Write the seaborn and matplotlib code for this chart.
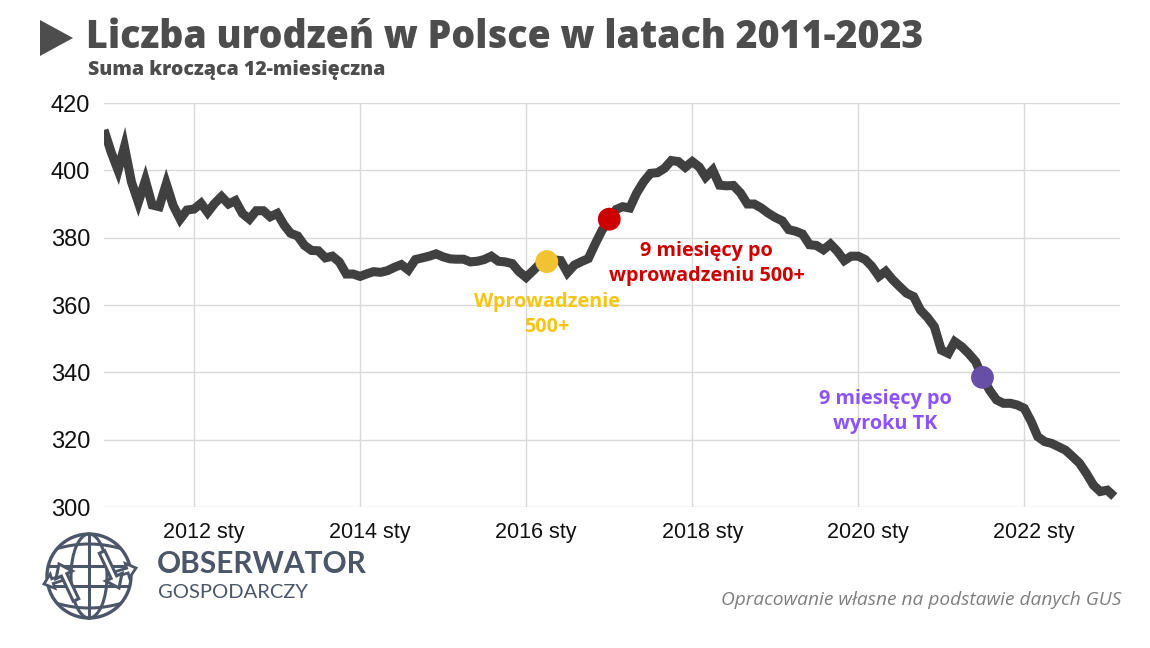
import numpy as np
import pandas as pd
import matplotlib
matplotlib.use("Agg")
import matplotlib.pyplot as plt
import seaborn as sns
from matplotlib.patches import Polygon, Circle, Ellipse, FancyArrow
from matplotlib.transforms import ScaledTranslation

# ---------------- data ----------------
start_month = "2010-12-01"
births = [
    412, 405.5, 400, 407, 396.5, 390.5, 397, 389.7, 389.2, 396,
    389.6, 385.5, 388.2, 388.5, 390.2, 387.5, 390.2, 392.2, 390, 391,
    387.2, 385.5, 388, 388, 386.2, 387.2, 383.7, 381.3, 380.5, 377.7,
    376.2, 376.1, 374, 374.5, 372.8, 369.2, 369.2, 368.5, 369.3, 369.9,
    369.7, 370.2, 371.2, 372, 370.4, 373.5, 374, 374.5, 375.2, 374.3,
    373.7, 373.6, 373.6, 372.8, 373, 373.5, 374.5, 373, 372.8, 372.3,
    369.9, 368.2, 370.2, 372.2, 372.9, 373.4, 373.2, 369.6, 371.9, 372.9,
    373.8, 378.3, 382.3, 385.5, 388.4, 389.2, 388.8, 393.2, 396.6, 399.1,
    399.3, 400.6, 402.9, 402.6, 400.9, 402.6, 401, 398, 400.1, 395.6,
    395.4, 395.5, 393.3, 390, 390, 388.8, 387.3, 386, 385, 382.4,
    381.9, 381.1, 377.9, 377.7, 376.4, 378.1, 376, 373.2, 374.5, 374.5,
    373.5, 371.5, 368.5, 370, 367.5, 365.5, 363.5, 362.5, 358.5, 356.3,
    353.6, 346.6, 345.6, 349.1, 347.6, 345.6, 343.2, 338.5, 334.7, 331.8,
    330.8, 330.8, 330.3, 329.3, 325.3, 320.9, 319.4, 318.9, 317.9, 316.9,
    315, 313, 310, 306.5, 304.6, 305, 303.1,
]

event_dates = ["2016-04-01", "2017-01-01", "2021-07-01"]
event_labels = ["Wprowadzenie\n500+", "9 miesięcy po\nwprowadzeniu 500+", "9 miesięcy po\nwyroku TK"]
event_dot_colors = ["#f1c232", "#cc0000", "#674ea7"]
event_text_colors = ["#f6c514", "#cc0000", "#8c52ff"]

y_ticks = [300, 320, 340, 360, 380, 400, 420]
x_tick_dates = ["2012-01-01", "2014-01-01", "2016-01-01", "2018-01-01", "2020-01-01", "2022-01-01"]
x_tick_labels = ["2012 sty", "2014 sty", "2016 sty", "2018 sty", "2020 sty", "2022 sty"]

title = "Liczba urodzeń w Polsce w latach 2011-2023"
subtitle = "Suma krocząca 12-miesięczna"
source = "Opracowanie własne na podstawie danych GUS"

# ---------------- frame ----------------
dates = pd.date_range(start_month, periods=len(births), freq="MS")
df = pd.DataFrame({"data": dates, "urodzenia": births})
series = df.set_index("data")["urodzenia"]
ev = pd.DataFrame({
    "data": pd.to_datetime(event_dates),
    "label": event_labels,
})
ev["urodzenia"] = [series.loc[d] for d in ev["data"]]

sns.set_theme(style="white")
plt.rcParams["font.family"] = ["Liberation Sans", "DejaVu Sans"]

W, H = 1150, 648
fig = plt.figure(figsize=(W / 100, H / 100), dpi=100)
fig.patch.set_facecolor("white")


def fx(x):
    return x / W


def fy(y):
    return 1 - y / H


ax = fig.add_axes([fx(104), fy(507), 1016 / W, 404 / H])
ax.set_facecolor("white")

sns.lineplot(data=df, x="data", y="urodzenia", ax=ax, color="#404040",
             linewidth=6.5, solid_joinstyle="miter", solid_capstyle="butt", zorder=3)
sns.scatterplot(data=ev, x="data", y="urodzenia", hue="label",
                palette=dict(zip(event_labels, event_dot_colors)),
                s=270, linewidth=0, legend=False, ax=ax, zorder=5)

offsets = [(0, -38), (70, -32), (-70, -24.5)]
for (_, r), col, off in zip(ev.iterrows(), event_text_colors, offsets):
    ax.annotate(r["label"], xy=(r["data"], r["urodzenia"]), xytext=off,
                textcoords="offset points", ha="center", va="center",
                fontsize=14.3, fontweight="bold", color=col,
                family=["Open Sans", "DejaVu Sans"], linespacing=1.35, zorder=6)

ax.set_ylim(300, 420)
ax.set_yticks(y_ticks)
ax.set_xlim(pd.Timestamp("2010-12-01"), pd.Timestamp("2023-02-26"))
ax.set_xticks(pd.to_datetime(x_tick_dates))
ax.set_xticklabels(x_tick_labels)
ax.set_xlabel("")
ax.set_ylabel("")
ax.grid(True, color="#d9d9d9", linewidth=1.0)
ax.set_axisbelow(True)
for s in ax.spines.values():
    s.set_visible(False)
ax.tick_params(axis="y", length=0, labelsize=17, pad=10, labelcolor="#111111")
ax.tick_params(axis="x", length=0, labelsize=15.5, pad=11, labelcolor="#111111")
shift = ScaledTranslation(0.10, 0, fig.dpi_scale_trans)
for lab in ax.get_xticklabels():
    lab.set_transform(lab.get_transform() + shift)

# ---------------- titles ----------------
fig.patches.append(Polygon([(fx(40), fy(20)), (fx(40), fy(56)), (fx(73), fy(38))],
                           closed=True, transform=fig.transFigure,
                           facecolor="#4d4d4d", edgecolor="none"))
fig.text(fx(86), fy(37), title, ha="left", va="center", fontsize=27,
         fontweight="heavy", color="#4d4d4d", family=["Open Sans", "DejaVu Sans"])
fig.text(fx(88), fy(70), subtitle, ha="left", va="center", fontsize=14,
         fontweight="heavy", color="#4d4d4d", family=["Open Sans", "DejaVu Sans"])
fig.text(fx(1121), fy(600), source, ha="right", va="center", fontsize=13.8,
         style="italic", color="#7f7f7f", family=["Open Sans", "DejaVu Sans"])

# ---------------- logo ----------------
lc = "#4b5669"
lax = fig.add_axes([fx(38), fy(626), 104 / W, 100 / H])
lax.set_xlim(38, 142)
lax.set_ylim(626, 526)
lax.axis("off")
cx, cy, r = 89, 576, 42
clip = Circle((cx, cy), r, transform=lax.transData)
lax.add_patch(Circle((cx, cy), r, fill=False, lw=2.4, ec=lc))
lax.add_patch(Ellipse((cx, cy), 36, 2 * r, fill=False, lw=2.2, ec=lc))
lax.plot([cx, cx], [cy - r, cy + r], color=lc, lw=2.2)
for yy, curv in [(552, -8), (566, 0), (586, 0), (600, 8)]:
    xs = np.linspace(cx - r, cx + r, 60)
    ys = yy + curv * (1 - ((xs - cx) / r) ** 2)
    ln, = lax.plot(xs, ys, color=lc, lw=2.2)
    ln.set_clip_path(clip)
lax.add_patch(FancyArrow(76, 600, -17, -36, width=6, head_width=18, head_length=12,
                         length_includes_head=True, fc="white", ec=lc, lw=2.2, zorder=4))
lax.add_patch(FancyArrow(102, 552, 17, 36, width=6, head_width=18, head_length=12,
                         length_includes_head=True, fc="white", ec=lc, lw=2.2, zorder=4))
lax.add_patch(FancyArrow(62, 578, -18, 6, width=5, head_width=15, head_length=9,
                         length_includes_head=True, fc="white", ec=lc, lw=2.0, zorder=3))
lax.add_patch(FancyArrow(116, 574, 20, -6, width=5, head_width=15, head_length=9,
                         length_includes_head=True, fc="white", ec=lc, lw=2.0, zorder=3))

fig.text(fx(157), fy(564), "OBSERWATOR", ha="left", va="center", fontsize=21.5,
         fontweight="bold", color=lc, family=["Lato", "DejaVu Sans"])
fig.text(fx(158), fy(593), "GOSPODARCZY", ha="left", va="center", fontsize=14.5,
         fontweight="normal", color=lc, family=["Lato", "DejaVu Sans"])

fig.savefig("out.png", dpi=100, facecolor="white")
